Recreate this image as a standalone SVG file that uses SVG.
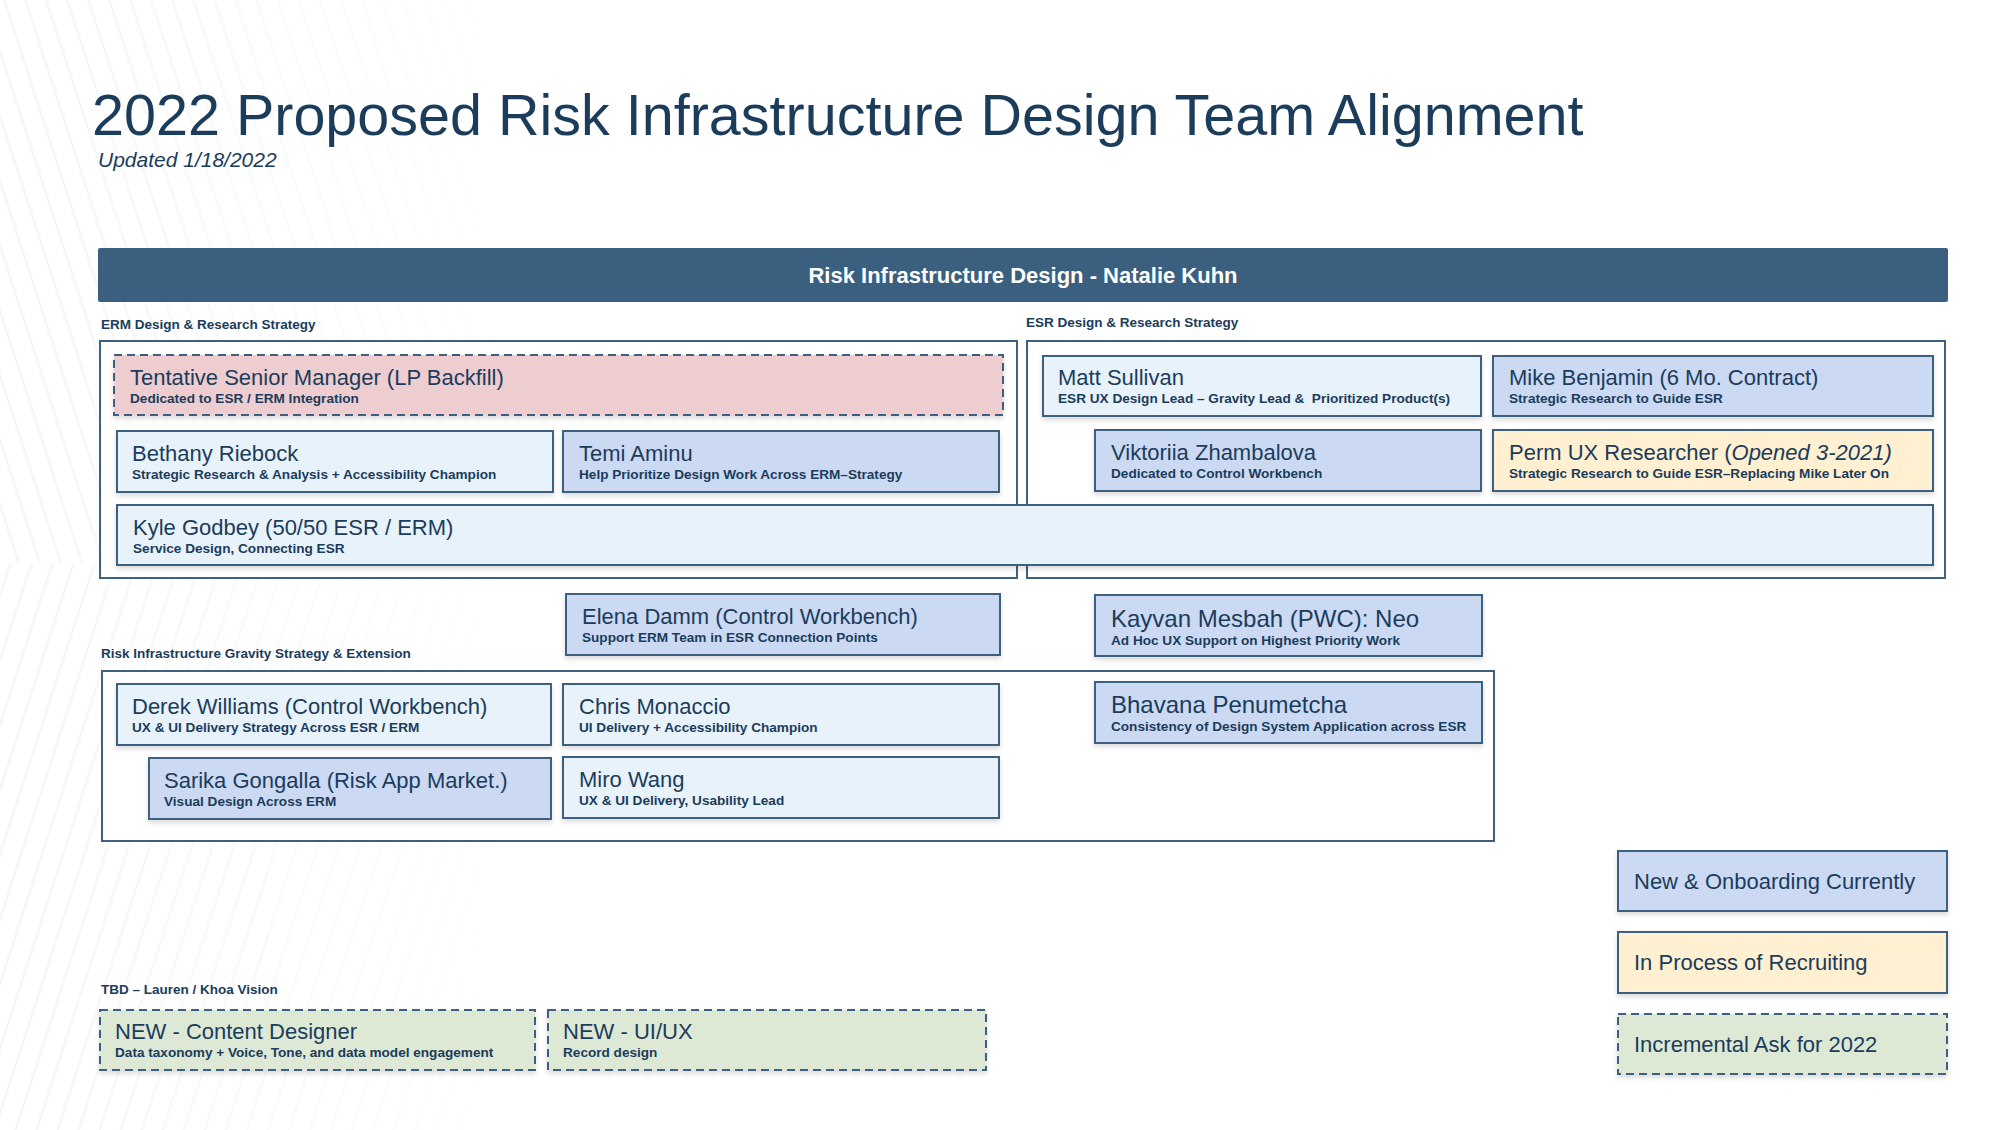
<svg xmlns="http://www.w3.org/2000/svg" width="2004" height="1130" viewBox="0 0 2004 1130">
  <defs>
    <style>
      text { font-family: "Liberation Sans", Arial, sans-serif; fill: #1B3C5B; }
      .title { font-size: 57.5px; }
      .updated { font-size: 21px; font-style: italic; }
      .hdr { font-size: 22px; font-weight: bold; fill: #FFFFFF; }
      .lbl { font-size: 13.5px; font-weight: bold; }
      .nm { font-size: 22px; }
      .nm24 { font-size: 24px; }
      .sub { font-size: 13.6px; font-weight: bold; }
      .cont { fill: #FFFFFF; stroke: #3E6180; stroke-width: 2; }
      .box { stroke: #3E6180; stroke-width: 2; filter: url(#sh); }
      .dash { stroke-dasharray: 8 5; }
      .lt { fill: #E8F2FA; }
      .pr { fill: #CBD9F3; }
      .pk { fill: #EDCDD0; }
      .yl { fill: #FEF0D0; }
      .gr { fill: #DDE8D5; }
    </style>
    <filter id="sh" x="-5%" y="-20%" width="110%" height="150%">
      <feDropShadow dx="0" dy="3" stdDeviation="2.5" flood-color="#000000" flood-opacity="0.14"/>
    </filter>
    <pattern id="stripeA" width="20" height="20" patternUnits="userSpaceOnUse" patternTransform="rotate(-18)">
      <line x1="4" y1="0" x2="4" y2="20" stroke="#F4F5F7" stroke-width="2.5"/>
    </pattern>
    <pattern id="stripeB" width="20" height="20" patternUnits="userSpaceOnUse" patternTransform="rotate(18)">
      <line x1="4" y1="0" x2="4" y2="20" stroke="#F4F5F7" stroke-width="2.5"/>
    </pattern>
    <linearGradient id="fade" x1="0" y1="0" x2="1" y2="0">
      <stop offset="0" stop-color="#FFFFFF" stop-opacity="1"/>
      <stop offset="0.6" stop-color="#FFFFFF" stop-opacity="0.5"/>
      <stop offset="1" stop-color="#FFFFFF" stop-opacity="0"/>
    </linearGradient>
    <mask id="fadeMask" maskUnits="userSpaceOnUse" x="0" y="0" width="500" height="1130">
      <rect x="0" y="0" width="500" height="1130" fill="url(#fade)"/>
    </mask>
  </defs>

  <rect x="0" y="0" width="2004" height="1130" fill="#FFFFFF"/>
  <g id="background-texture" mask="url(#fadeMask)">
    <rect x="0" y="0" width="500" height="563" fill="url(#stripeA)"/>
    <rect x="0" y="563" width="500" height="567" fill="url(#stripeB)"/>
  </g>

  <g id="heading">
    <text class="title" x="92" y="135">2022 Proposed Risk Infrastructure Design Team Alignment</text>
    <text class="updated" x="98" y="167">Updated 1/18/2022</text>
  </g>

  <g id="header-bar">
    <rect x="98" y="248" width="1850" height="54" rx="2" fill="#3A5F7F"/>
    <text class="hdr" x="1023" y="283" text-anchor="middle">Risk Infrastructure Design - Natalie Kuhn</text>
  </g>

  <g id="group-labels">
    <text class="lbl" x="101" y="329">ERM Design &amp; Research Strategy</text>
    <text class="lbl" x="1026" y="327">ESR Design &amp; Research Strategy</text>
    <text class="lbl" x="101" y="658">Risk Infrastructure Gravity Strategy &amp; Extension</text>
    <text class="lbl" x="101" y="994">TBD – Lauren / Khoa Vision</text>
  </g>

  <g id="containers">
    <rect id="erm-container" class="cont" x="100" y="341" width="917" height="237"/>
    <rect id="esr-container" class="cont" x="1027" y="341" width="918" height="237"/>
    <rect id="gravity-container" class="cont" x="102" y="671" width="1392" height="170"/>
  </g>

  <g id="connectors"></g>

  <g id="tentative">
    <rect class="box pk dash" x="114" y="355" width="889" height="60"/>
    <text class="nm" x="130" y="385">Tentative Senior Manager (LP Backfill)</text>
    <text class="sub" x="130" y="403">Dedicated to ESR / ERM Integration</text>
  </g>
  <g id="bethany">
    <rect class="box lt" x="117" y="431" width="436" height="61"/>
    <text class="nm" x="132" y="461">Bethany Riebock</text>
    <text class="sub" x="132" y="479">Strategic Research &amp; Analysis + Accessibility Champion</text>
  </g>
  <g id="temi">
    <rect class="box pr" x="563" y="431" width="436" height="61"/>
    <text class="nm" x="579" y="461">Temi Aminu</text>
    <text class="sub" x="579" y="479">Help Prioritize Design Work Across ERM–Strategy</text>
  </g>
  <g id="matt">
    <rect class="box lt" x="1043" y="356" width="438" height="60"/>
    <text class="nm" x="1058" y="385">Matt Sullivan</text>
    <text class="sub" x="1058" y="403">ESR UX Design Lead – Gravity Lead &amp;&#160; Prioritized Product(s)</text>
  </g>
  <g id="mike">
    <rect class="box pr" x="1493" y="356" width="440" height="60"/>
    <text class="nm" x="1509" y="385">Mike Benjamin (6 Mo. Contract)</text>
    <text class="sub" x="1509" y="403">Strategic Research to Guide ESR</text>
  </g>
  <g id="viktoriia">
    <rect class="box pr" x="1095" y="430" width="386" height="61"/>
    <text class="nm" x="1111" y="460">Viktoriia Zhambalova</text>
    <text class="sub" x="1111" y="478">Dedicated to Control Workbench</text>
  </g>
  <g id="perm">
    <rect class="box yl" x="1493" y="430" width="440" height="61"/>
    <text class="nm" x="1509" y="460">Perm UX Researcher (<tspan font-style="italic">Opened 3-2021)</tspan></text>
    <text class="sub" x="1509" y="478">Strategic Research to Guide ESR–Replacing Mike Later On</text>
  </g>
  <g id="kyle">
    <rect class="box lt" x="117" y="505" width="1816" height="60"/>
    <text class="nm" x="133" y="535">Kyle Godbey (50/50 ESR / ERM)</text>
    <text class="sub" x="133" y="553">Service Design, Connecting ESR</text>
  </g>
  <g id="elena">
    <rect class="box pr" x="566" y="594" width="434" height="61"/>
    <text class="nm" x="582" y="624">Elena Damm (Control Workbench)</text>
    <text class="sub" x="582" y="642">Support ERM Team in ESR Connection Points</text>
  </g>
  <g id="kayvan">
    <rect class="box pr" x="1095" y="595" width="387" height="61"/>
    <text class="nm24" x="1111" y="627">Kayvan Mesbah (PWC): Neo</text>
    <text class="sub" x="1111" y="645">Ad Hoc UX Support on Highest Priority Work</text>
  </g>
  <g id="derek">
    <rect class="box lt" x="117" y="684" width="434" height="61"/>
    <text class="nm" x="132" y="714">Derek Williams (Control Workbench)</text>
    <text class="sub" x="132" y="732">UX &amp; UI Delivery Strategy Across ESR / ERM</text>
  </g>
  <g id="chris">
    <rect class="box lt" x="563" y="684" width="436" height="61"/>
    <text class="nm" x="579" y="714">Chris Monaccio</text>
    <text class="sub" x="579" y="732">UI Delivery + Accessibility Champion</text>
  </g>
  <g id="bhavana">
    <rect class="box pr" x="1095" y="682" width="387" height="61"/>
    <text class="nm24" x="1111" y="713">Bhavana Penumetcha</text>
    <text class="sub" x="1111" y="731">Consistency of Design System Application across ESR</text>
  </g>
  <g id="sarika">
    <rect class="box pr" x="149" y="758" width="402" height="61"/>
    <text class="nm" x="164" y="788">Sarika Gongalla (Risk App Market.)</text>
    <text class="sub" x="164" y="806">Visual Design Across ERM</text>
  </g>
  <g id="miro">
    <rect class="box lt" x="563" y="757" width="436" height="61"/>
    <text class="nm" x="579" y="787">Miro Wang</text>
    <text class="sub" x="579" y="805">UX &amp; UI Delivery, Usability Lead</text>
  </g>
  <g id="content-designer">
    <rect class="box gr dash" x="100" y="1010" width="435" height="60"/>
    <text class="nm" x="115" y="1039">NEW - Content Designer</text>
    <text class="sub" x="115" y="1057">Data taxonomy + Voice, Tone, and data model engagement</text>
  </g>
  <g id="ui-ux">
    <rect class="box gr dash" x="548" y="1010" width="438" height="60"/>
    <text class="nm" x="563" y="1039">NEW - UI/UX</text>
    <text class="sub" x="563" y="1057">Record design</text>
  </g>

  <g id="legend-onboarding">
    <rect class="box pr" x="1618" y="851" width="329" height="60"/>
    <text class="nm" x="1634" y="889">New &amp; Onboarding Currently</text>
  </g>
  <g id="legend-recruiting">
    <rect class="box yl" x="1618" y="932" width="329" height="61"/>
    <text class="nm" x="1634" y="970">In Process of Recruiting</text>
  </g>
  <g id="legend-incremental">
    <rect class="box gr dash" x="1618" y="1014" width="329" height="60"/>
    <text class="nm" x="1634" y="1052">Incremental Ask for 2022</text>
  </g>
</svg>
